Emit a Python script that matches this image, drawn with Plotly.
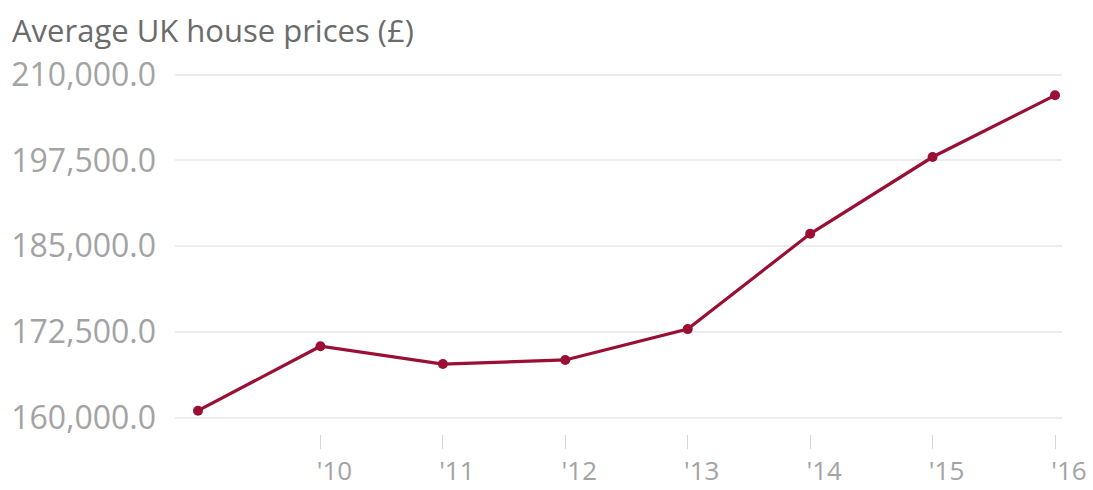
import plotly.graph_objects as go

# Average UK house prices by year
years = [2009, 2010, 2011, 2012, 2013, 2014, 2015, 2016]
prices = [161000, 170400, 167800, 168400, 172900, 186800, 198000, 207000]

x_tick_vals = [2010, 2011, 2012, 2013, 2014, 2015, 2016]
x_tick_text = ["'10", "'11", "'12", "'13", "'14", "'15", "'16"]
y_tick_vals = [160000, 172500, 185000, 197500, 210000]

title_text = "Average UK house prices (£)"

line_color = "#9a0f34"
font_family = "Open Sans"

fig = go.Figure(
    go.Scatter(
        x=years,
        y=prices,
        mode="lines+markers",
        line=dict(color=line_color, width=3.2),
        marker=dict(color=line_color, size=10),
        hoverinfo="x+y",
    )
)

fig.update_layout(
    width=1093,
    height=490,
    margin=dict(l=175, r=31, t=72, b=56),
    paper_bgcolor="white",
    plot_bgcolor="white",
    showlegend=False,
    font=dict(family=font_family),
    title=dict(
        text=title_text,
        xref="container",
        yref="container",
        x=0.011,
        xanchor="left",
        y=1 - 31 / 490,
        yanchor="middle",
        font=dict(size=31, color="#6b6b6b", family=font_family),
    ),
)

fig.update_xaxes(
    range=[2008.812, 2016.057],
    tickvals=x_tick_vals,
    ticktext=x_tick_text,
    showgrid=False,
    zeroline=False,
    showline=False,
    automargin=False,
    ticks="outside",
    ticklen=14,
    tickwidth=1,
    tickcolor="#d6d6d6",
    ticklabelstandoff=0,
    ticklabelshift=14,
    tickfont=dict(size=26, color="#a3a3a3", family=font_family),
)

fig.update_yaxes(
    range=[157600, 210400],
    tickvals=y_tick_vals,
    tickformat=",.1f",
    showgrid=True,
    gridcolor="#ececec",
    gridwidth=1.5,
    zeroline=False,
    showline=False,
    automargin=False,
    ticks="",
    ticklabelstandoff=18,
    tickfont=dict(size=32, color="#a3a3a3", family=font_family),
)

fig.write_html("out.html")
